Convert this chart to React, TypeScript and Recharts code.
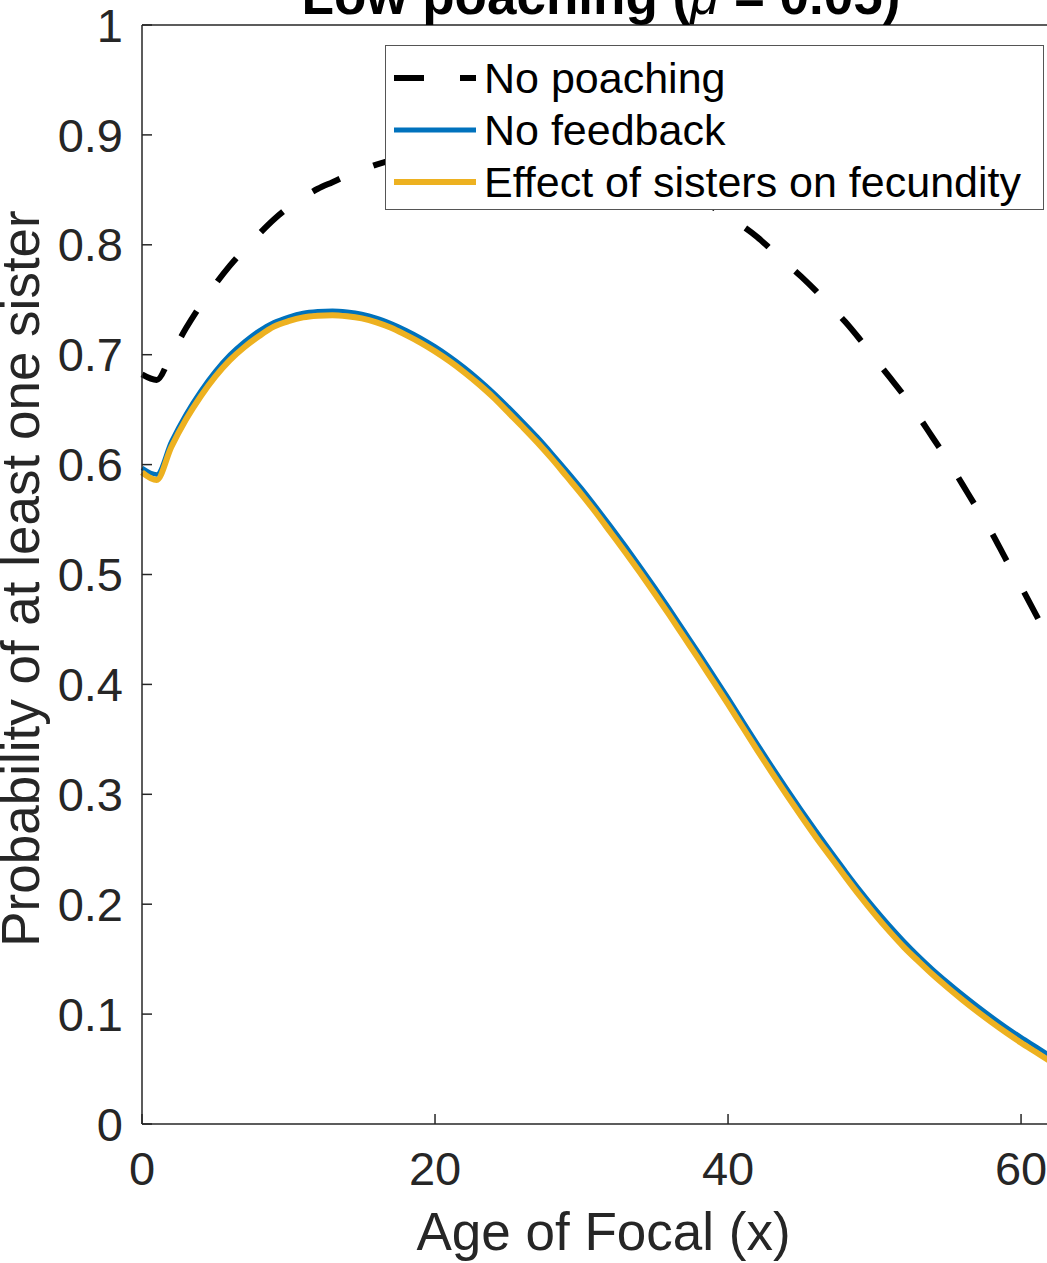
import React from 'react';
import { LineChart, Line, XAxis, YAxis, Legend, ReferenceLine } from 'recharts';

// Age of focal (x), one point per year
const ages = [
  0, 1, 2, 3, 4, 5, 6, 7, 8, 9, 10, 11, 12, 13, 14, 15, 16, 17, 18, 19, 20,
  21, 22, 23, 24, 25, 26, 27, 28, 29, 30, 31, 32, 33, 34, 35, 36, 37, 38, 39, 40,
  41, 42, 43, 44, 45, 46, 47, 48, 49, 50, 51, 52, 53, 54, 55, 56, 57, 58, 59, 60,
  61, 62,
];

// Probability of at least one sister, no poaching
const noPoaching = [
  0.682, 0.677, 0.700, 0.724, 0.745, 0.764, 0.781, 0.796, 0.810, 0.823, 0.834,
  0.843, 0.851, 0.857, 0.863, 0.868, 0.873, 0.877, 0.881, 0.885, 0.888,
  0.891, 0.893, 0.895, 0.896, 0.897, 0.897, 0.896, 0.894, 0.892, 0.889,
  0.885, 0.881, 0.876, 0.870, 0.864, 0.857, 0.850, 0.842, 0.834, 0.826,
  0.817, 0.807, 0.795, 0.783, 0.771, 0.758, 0.744, 0.730, 0.714, 0.697,
  0.680, 0.663, 0.644, 0.624, 0.604, 0.582, 0.560, 0.538, 0.513, 0.489,
  0.464, 0.438,
];

// No feedback
const noFeedback = [
  0.597, 0.591, 0.621, 0.646, 0.667, 0.685, 0.700, 0.712, 0.722, 0.7295, 0.7345,
  0.738, 0.7395, 0.740, 0.739, 0.737, 0.7335, 0.7285, 0.7225, 0.7155, 0.7075,
  0.6985, 0.6885, 0.6775, 0.6655, 0.6525, 0.639, 0.625, 0.610, 0.5945, 0.5785,
  0.5615, 0.544, 0.526, 0.5075, 0.4885, 0.469, 0.449, 0.429, 0.4085, 0.388,
  0.367, 0.346, 0.3255, 0.3055, 0.286, 0.267, 0.2485, 0.2305, 0.213, 0.1965,
  0.181, 0.1665, 0.153, 0.1405, 0.129, 0.118, 0.1075, 0.0975, 0.088, 0.079,
  0.0705, 0.062,
];

// Effect of sisters on fecundity
const sistersFecundity = [
  0.593, 0.586, 0.616, 0.641, 0.662, 0.680, 0.695, 0.707, 0.717, 0.7255, 0.7305,
  0.734, 0.7355, 0.736, 0.735, 0.733, 0.7295, 0.7245, 0.718, 0.711, 0.703,
  0.694, 0.684, 0.673, 0.661, 0.6475, 0.634, 0.620, 0.605, 0.589, 0.573,
  0.556, 0.538, 0.520, 0.5015, 0.4825, 0.463, 0.443, 0.423, 0.4025, 0.382,
  0.361, 0.340, 0.3195, 0.2995, 0.280, 0.261, 0.243, 0.225, 0.2075, 0.191,
  0.1755, 0.161, 0.148, 0.1355, 0.124, 0.113, 0.1025, 0.0925, 0.083, 0.074,
  0.0655, 0.057,
];

const xTicks = [0, 20, 40, 60];
const yTicks = [0, 0.1, 0.2, 0.3, 0.4, 0.5, 0.6, 0.7, 0.8, 0.9, 1];

const seriesNames = ['No poaching', 'No feedback', 'Effect of sisters on fecundity'];

const FONT = "'Liberation Sans', Arial, Helvetica, sans-serif";
const INK = '#262626';
const DASH = '30 36';

const legendStyles = [
  { color: '#000000', width: 6, dash: DASH },
  { color: '#0072BD', width: 5, dash: undefined },
  { color: '#EDB120', width: 6, dash: undefined },
];

const chartData = ages.map((age, i) => ({
  age,
  noPoaching: noPoaching[i],
  noFeedback: noFeedback[i],
  sisters: sistersFecundity[i],
}));

function LegendBox() {
  return (
    <div
      style={{
        boxSizing: 'border-box',
        width: 659,
        height: 165,
        background: '#fff',
        border: '1.5px solid #555',
        paddingTop: 6,
        fontFamily: FONT,
        fontSize: 43,
        color: '#000',
      }}
    >
      {seriesNames.map((name, i) => (
        <div key={name} style={{ display: 'flex', alignItems: 'center', height: 52 }}>
          <svg width={92} height={12} style={{ marginLeft: 8, flex: 'none' }}>
            <line
              x1={0}
              x2={82}
              y1={6}
              y2={6}
              stroke={legendStyles[i].color}
              strokeWidth={legendStyles[i].width}
              strokeDasharray={legendStyles[i].dash}
            />
          </svg>
          <span style={{ whiteSpace: 'nowrap', lineHeight: '52px', marginLeft: -2 }}>{name}</span>
        </div>
      ))}
    </div>
  );
}

function YTitle(props: any) {
  const vb = props.viewBox || { y: 25, height: 1099 };
  const cy = vb.y + vb.height / 2 + 4;
  const x = 39;
  return (
    <text
      x={x}
      y={cy}
      transform={`rotate(-90, ${x}, ${cy})`}
      textAnchor="middle"
      fill={INK}
      fontSize={53}
      fontFamily={FONT}
    >
      Probability of at least one sister
    </text>
  );
}

export default function App() {
  return (
    <div
      style={{
        position: 'fixed',
        left: 0,
        top: 0,
        width: 1047,
        height: 1263,
        overflow: 'hidden',
        background: '#fff',
      }}
    >
      <svg
        width={1047}
        height={40}
        style={{ position: 'absolute', left: 0, top: 0, zIndex: 2 }}
      >
        <text
          x={601}
          y={14}
          textAnchor="middle"
          fontFamily={FONT}
          fontWeight="bold"
          fontSize={53}
          fill="#000"
        >
          Low poaching (<tspan fontStyle="italic" fontWeight="normal">μ</tspan> = 0.05)
        </text>
      </svg>
      <LineChart
        width={1100}
        height={1263}
        data={chartData}
        margin={{ top: 25, right: 35, bottom: 0, left: 0 }}
      >
        <XAxis
          dataKey="age"
          type="number"
          domain={[0, 63]}
          ticks={xTicks}
          interval={0}
          height={139}
          tickSize={-10}
          tickMargin={38}
          axisLine={{ stroke: INK, strokeWidth: 1.5 }}
          tickLine={{ stroke: INK, strokeWidth: 1.5 }}
          tick={{ fill: INK, fontSize: 47, fontFamily: FONT }}
          label={{
            value: 'Age of Focal (x)',
            position: 'insideBottom',
            offset: 13,
            fill: INK,
            fontSize: 53,
            fontFamily: FONT,
          }}
        />
        <YAxis
          type="number"
          domain={[0, 1]}
          ticks={yTicks}
          interval={0}
          width={142}
          tickSize={-10}
          tickMargin={29}
          axisLine={{ stroke: INK, strokeWidth: 1.5 }}
          tickLine={{ stroke: INK, strokeWidth: 1.5 }}
          tick={{ fill: INK, fontSize: 47, fontFamily: FONT }}
          tickFormatter={(v: number) => String(v)}
          label={{ content: YTitle }}
        />
        <ReferenceLine y={1} stroke={INK} strokeWidth={1.5} />
        <Line
          type="monotone"
          dataKey="noPoaching"
          stroke="#000000"
          strokeWidth={6}
          strokeDasharray={DASH}
          dot={false}
          isAnimationActive={false}
        />
        <Line
          type="monotone"
          dataKey="noFeedback"
          stroke="#0072BD"
          strokeWidth={4.5}
          dot={false}
          isAnimationActive={false}
        />
        <Line
          type="monotone"
          dataKey="sisters"
          stroke="#EDB120"
          strokeWidth={6}
          dot={false}
          isAnimationActive={false}
        />
        <Legend
          layout="horizontal"
          align="center"
          verticalAlign="middle"
          content={() => <LegendBox />}
          wrapperStyle={{ left: 385, top: 45, width: 659, height: 165 }}
        />
      </LineChart>
    </div>
  );
}
